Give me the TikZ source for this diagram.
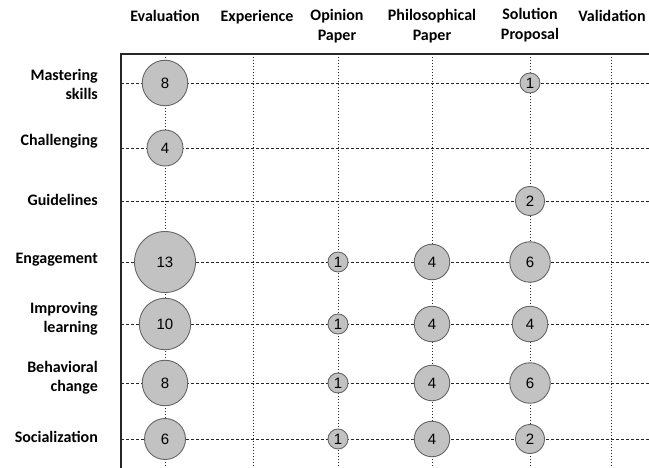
\documentclass[tikz,border=0pt]{standalone}
\usepackage{fontspec}
\setmainfont{Carlito}
\newfontfamily\numfont{Liberation Sans}
\begin{document}
\begin{tikzpicture}[x=1pt,y=-1pt,
  hdr/.style={font=\bfseries\fontsize{16}{20}\selectfont, align=center, anchor=north, inner sep=0pt},
  rowlab/.style={font=\bfseries\fontsize{16}{19}\selectfont, align=right, anchor=east, inner sep=0pt},
  bub/.style={circle, draw=black!60, line width=0.9pt, fill=black!24, inner sep=0pt, font=\numfont\fontsize{15}{15}\selectfont},
  hgrid/.style={line width=0.8pt, dash pattern=on 3pt off 2pt, black!85},
  vgrid/.style={line width=0.8pt, dash pattern=on 1.4pt off 1.6pt, black!85},
  frame/.style={line width=2pt, black!85}]
\useasboundingbox (0,0) rectangle (649,468);
\fill[white] (0,0) rectangle (649,468);
% column and row coordinates
\foreach \n/\x in {c1/165,c2/253,c3/338,c4/432,c5/530,c6/611}{
  \coordinate (\n t) at (\x,54);
  \coordinate (\n b) at (\x,468);
}
\foreach \n/\y in {r1/83,r2/148,r3/201,r4/262,r5/324,r6/383,r7/439}{
  \coordinate (\n l) at (121,\y);
  \coordinate (\n r) at (649,\y);
}
% grid
\foreach \n in {c1,c2,c3,c4,c5,c6}{ \draw[vgrid] (\n t) -- (\n b); }
\foreach \n in {r1,r2,r3,r4,r5,r6,r7}{ \draw[hgrid] (\n l) -- (\n r); }
% frame
\coordinate (corner) at (121,54);
\coordinate (frameR) at (649,54);
\coordinate (frameB) at (121,468);
\draw[frame] (frameB) -- (corner) -- (frameR);
% headers
\node[hdr] (h1) at (165,10) {Evaluation};
\node[hdr] (h2) at (257,10) {Experience};
\node[hdr] (h3) at (337,9) {Opinion\\Paper};
\node[hdr] (h4) at (432,9) {Philosophical\\Paper};
\node[hdr] (h5) at (530,8) {Solution\\Proposal};
\node[hdr] (h6) at (612,10) {Validation};
% row labels
\node[rowlab] (l1) at (98,84) {Mastering\\skills};
\node[rowlab] (l2) at (98,141) {Challenging};
\node[rowlab] (l3) at (98,200) {Guidelines};
\node[rowlab] (l4) at (98,260) {Engagement};
\node[rowlab] (l5) at (98,319) {Improving\\learning};
\node[rowlab] (l6) at (98,378) {Behavioral\\change};
\node[rowlab] (l7) at (98,437) {Socialization};
% bubbles
\node[bub, minimum size=45.5pt] (b11) at (165,83) {8};
\node[bub, minimum size=20pt] (b15) at (530,83) {1};
\node[bub, minimum size=36pt] (b21) at (165,148) {4};
\node[bub, minimum size=29pt] (b35) at (530,201) {2};
\node[bub, minimum size=61pt] (b41) at (165,262) {13};
\node[bub, minimum size=20pt] (b43) at (338,262) {1};
\node[bub, minimum size=35.5pt] (b44) at (432,262) {4};
\node[bub, minimum size=40.5pt] (b45) at (530,262) {6};
\node[bub, minimum size=51.5pt] (b51) at (165,324) {10};
\node[bub, minimum size=20pt] (b53) at (338,324) {1};
\node[bub, minimum size=35.5pt] (b54) at (432,324) {4};
\node[bub, minimum size=35.5pt] (b55) at (530,324) {4};
\node[bub, minimum size=45.5pt] (b61) at (165,383) {8};
\node[bub, minimum size=20pt] (b63) at (338,383) {1};
\node[bub, minimum size=35.5pt] (b64) at (432,383) {4};
\node[bub, minimum size=40.5pt] (b65) at (530,383) {6};
\node[bub, minimum size=41pt] (b71) at (165,439) {6};
\node[bub, minimum size=20pt] (b73) at (338,439) {1};
\node[bub, minimum size=35.5pt] (b74) at (432,439) {4};
\node[bub, minimum size=29pt] (b75) at (530,439) {2};
\end{tikzpicture}
\end{document}
